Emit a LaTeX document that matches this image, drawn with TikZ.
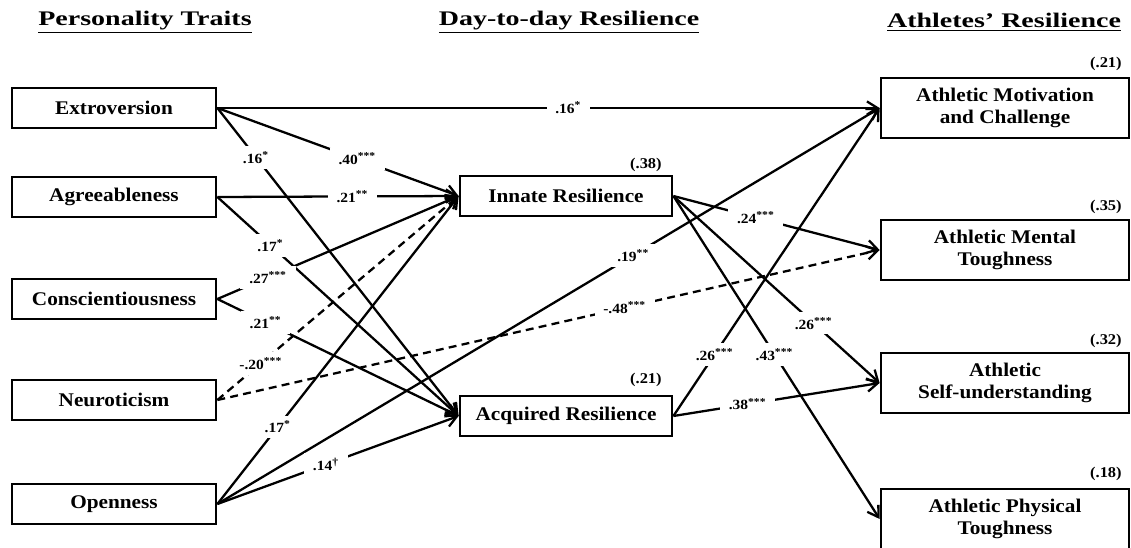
\documentclass[tikz,border=0pt]{standalone}
\usepackage{fontspec}
\setmainfont{Liberation Serif}[FakeStretch=1.1]
\newfontfamily\headfont{Liberation Serif}[FakeStretch=1.35]
\usetikzlibrary{arrows.meta}
\newcommand{\sig}[1]{\textsuperscript{#1}}

\begin{document}
\begin{tikzpicture}[x=0.02cm, y=-0.02cm]
\tikzstyle{box}=[draw, line width=1.6pt, minimum width=4.08cm, minimum height=0.8cm, inner sep=1pt, font=\fontsize{11}{12.5}\selectfont\bfseries]
\tikzstyle{midbox}=[box, minimum width=4.24cm]
\tikzstyle{outbox}=[box, minimum width=4.96cm, minimum height=1.2cm, align=center]
\tikzstyle{head}=[font=\headfont\fontsize{11.8}{13}\selectfont\bfseries]
\tikzstyle{rsq}=[anchor=east, inner sep=0pt, font=\fontsize{8.5}{9}\selectfont\bfseries]
\tikzstyle{lab}=[fill=white, inner xsep=5pt, inner ysep=3pt, font=\fontsize{8}{9}\selectfont\bfseries]
\tikzstyle{arrow}=[-{Straight Barb[length=6pt, width=7.5pt]}, line width=1.3pt]
\tikzstyle{neg}=[arrow, dash pattern=on 4.5pt off 3pt]
\useasboundingbox (0,0) rectangle (1131,547);
% headings
\node (H1) [head] at (145,22) {\underline{Personality Traits}};
\node (H2) [head] at (569,22) {\underline{Day-to-day Resilience}};
\node (H3) [head] at (1004,22) {\underline{Athletes’ Resilience}};
% personality traits
\node (E) [box] at (114,108) {Extroversion};
\node (A) [box] at (114,197) {Agreeableness};
\node (C) [box] at (114,299) {Conscientiousness};
\node (N) [box] at (114,400) {Neuroticism};
\node (O) [box] at (114,504) {Openness};
% day-to-day resilience
\node (I) [midbox] at (566,196) {Innate Resilience};
\node (Q) [midbox] at (566,416) {Acquired Resilience};
\node (RI) [rsq] at (662,165) {(.38)};
\node (RQ) [rsq] at (662,380) {(.21)};
% athletes' resilience
\node (M) [outbox] at (1005,108) {Athletic Motivation\\and Challenge};
\node (T) [outbox] at (1005,250) {Athletic Mental\\Toughness};
\node (S) [outbox] at (1005,383) {Athletic\\Self-understanding};
\node (P) [outbox] at (1005,519) {Athletic Physical\\Toughness};
\node (RM) [rsq] at (1122,64) {(.21)};
\node (RT) [rsq] at (1122,207) {(.35)};
\node (RS) [rsq] at (1122,341) {(.32)};
\node (RP) [rsq] at (1122,474) {(.18)};
% paths
\draw [arrow] (E.east) -- node[lab, pos=0.53] {.16\sig{*}} (M.west);
\draw [arrow] (E.east) -- node[lab, pos=0.58] {.40\sig{***}} (I.west);
\draw [arrow] (E.east) -- node[lab, pos=0.16] {.16\sig{*}} (Q.west);
\draw [arrow] (A.east) -- node[lab, pos=0.56] {.21\sig{**}} (I.west);
\draw [arrow] (A.east) -- node[lab, pos=0.22] {.17\sig{*}} (Q.west);
\draw [arrow] (C.east) -- node[lab, pos=0.21] {.27\sig{***}} (I.west);
\draw [arrow] (C.east) -- node[lab, pos=0.2] {.21\sig{**}} (Q.west);
\draw [neg] (N.east) -- node[lab, pos=0.18] {-.20\sig{***}} (I.west);
\draw [neg] (N.east) -- node[lab, pos=0.615] {-.48\sig{***}} (T.west);
\draw [arrow] (O.east) -- node[lab, pos=0.25] {.17\sig{*}} (I.west);
\draw [arrow] (O.east) -- node[lab, pos=0.628] {.19\sig{**}} (M.west);
\draw [arrow] (O.east) -- node[lab, pos=0.45] {.14\sig{\textdagger}} (Q.west);
\draw [arrow] (I.east) -- node[lab, pos=0.4] {.24\sig{***}} (T.west);
\draw [arrow] (I.east) -- node[lab, pos=0.68] {.26\sig{***}} (S.west);
\draw [arrow] (I.east) -- node[lab, pos=0.49] {.43\sig{***}} (P.west);
\draw [arrow] (Q.east) -- node[lab, pos=0.2] {.26\sig{***}} (M.west);
\draw [arrow] (Q.east) -- node[lab, pos=0.36] {.38\sig{***}} (S.west);
\end{tikzpicture}
\end{document}
